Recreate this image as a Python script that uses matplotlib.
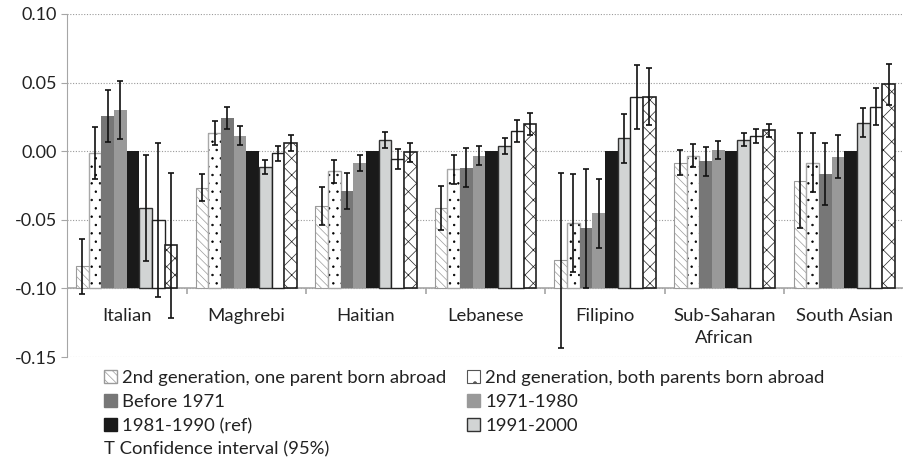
import numpy as np
import matplotlib
matplotlib.use("Agg")
import matplotlib.pyplot as plt
from matplotlib.patches import Patch

plt.rcParams['font.family'] = ['Lato', 'DejaVu Sans']
plt.rcParams['hatch.linewidth'] = 0.5

groups = ['Italian', 'Maghrebi', 'Haitian', 'Lebanese', 'Filipino',
          'Sub-Saharan\nAfrican', 'South Asian']
series = ['2nd generation, one parent born abroad',
          '2nd generation, both parents born abroad',
          'Before 1971', '1971-1980', '1981-1990 (ref)', '1991-2000',
          '2001-2005', '2006-2010']

# values per group (8 series each)
italian = [-0.084, -0.001, 0.0255, 0.030, 0.0, -0.0415, -0.050, -0.0687]
maghrebi = [-0.0265, 0.0131, 0.024, 0.0114, 0.0, -0.0117, -0.0015, 0.0058]
haitian = [-0.040, -0.0146, -0.029, -0.0087, 0.0, 0.008, -0.0058, -0.0007]
lebanese = [-0.0415, -0.0131, -0.0119, -0.0032, 0.0, 0.0039, 0.0146, 0.020]
filipino = [-0.0796, -0.0524, -0.0563, -0.0451, 0.0, 0.0095, 0.0396, 0.0398]
subsahara = [-0.0083, -0.0032, -0.0073, 0.001, 0.0, 0.0083, 0.0112, 0.0153]
southasian = [-0.0216, -0.0083, -0.0167, -0.0039, 0.0, 0.0209, 0.0325, 0.0488]

# half widths of 95% confidence intervals
italian_ci = [0.020, 0.019, 0.019, 0.021, 0.0, 0.0385, 0.056, 0.053]
maghrebi_ci = [0.0099, 0.0086, 0.008, 0.0072, 0.0, 0.0052, 0.0056, 0.0058]
haitian_ci = [0.0136, 0.0084, 0.0128, 0.006, 0.0, 0.006, 0.0075, 0.007]
lebanese_ci = [0.0158, 0.0106, 0.014, 0.0072, 0.0, 0.0058, 0.0082, 0.0082]
filipino_ci = [0.0635, 0.0355, 0.0432, 0.0252, 0.0, 0.0178, 0.0234, 0.0208]
subsahara_ci = [0.0091, 0.0085, 0.0105, 0.0064, 0.0, 0.0048, 0.0051, 0.0047]
southasian_ci = [0.0346, 0.0216, 0.0228, 0.0157, 0.0, 0.0103, 0.0134, 0.0149]

vals = np.array([italian, maghrebi, haitian, lebanese, filipino, subsahara, southasian])
cis = np.array([italian_ci, maghrebi_ci, haitian_ci, lebanese_ci, filipino_ci,
                subsahara_ci, southasian_ci])

base = -0.10
styles = [
    dict(facecolor='white', edgecolor='#9a9a9a', hatch='\\\\\\\\', lw=0.8),
    dict(facecolor='white', edgecolor='#a8a8a8', hatch='..', lw=1.0),
    dict(facecolor='#777777', edgecolor='none', hatch=None, lw=0),
    dict(facecolor='#999999', edgecolor='none', hatch=None, lw=0),
    dict(facecolor='#1a1a1a', edgecolor='none', hatch=None, lw=0),
    dict(facecolor='#d2d4d4', edgecolor='#333333', hatch=None, lw=1.0),
    dict(facecolor='white', edgecolor='#222222', hatch=None, lw=1.0),
    dict(facecolor='white', edgecolor='#222222', hatch='xx', lw=1.2),
]
fs = 13.3
tc = '#222222'

fig = plt.figure(figsize=(9.04, 4.73), dpi=100)
ax = fig.add_axes([67/904, 1-357/473, 1-67/904, (357-14)/473])

x = np.arange(len(groups))
w = 0.106
for i in range(len(series)):
    xs = x + (i - 3.5) * w
    st = styles[i]
    if i == 1:
        # black dots with a light grey outline
        ax.bar(xs, vals[:, i] - base, w, bottom=base, color='white',
               edgecolor='black', hatch=st['hatch'], linewidth=0, zorder=2)
        ax.bar(xs, vals[:, i] - base, w, bottom=base, fill=False,
               edgecolor=st['edgecolor'], linewidth=st['lw'], zorder=2)
    else:
        ax.bar(xs, vals[:, i] - base, w, bottom=base, color=st['facecolor'],
               edgecolor=st['edgecolor'], hatch=st['hatch'],
               linewidth=st['lw'], zorder=2)
    m = cis[:, i] > 0
    if m.any():
        ax.errorbar(xs[m], vals[m, i], yerr=cis[m, i], fmt='none',
                    ecolor='#111111', elinewidth=1.2, capsize=2.3,
                    capthick=1.2, zorder=3)

ax.set_xlim(-0.5, len(groups) - 0.5)
ax.set_ylim(-0.15, 0.10)
ax.set_yticks([0.10, 0.05, 0.0, -0.05, -0.10, -0.15])
ax.set_yticklabels(['0.10', '0.05', '0.00', '-0.05', '-0.10', '-0.15'])
ax.yaxis.grid(True, linestyle=(0, (1, 1.5)), color='#9a9a9a', linewidth=0.8)
ax.set_axisbelow(True)
ax.set_xticks([])
for s in ['top', 'right', 'bottom']:
    ax.spines[s].set_visible(False)
ax.spines['left'].set_color('#a6a6a6')
ax.tick_params(axis='y', length=4, color='#a6a6a6', labelsize=13,
               labelcolor=tc, pad=3)

# category axis sits at -0.10
ax.axhline(base, color='#a6a6a6', linewidth=1.2, zorder=1)
ax.vlines(np.arange(len(groups) + 1) - 0.5, base - 0.004, base,
          color='#a6a6a6', linewidth=1.2)
for xi, g in zip(x, groups):
    ax.text(xi, -0.1145, g, ha='center', va='top', fontsize=fs,
            color=tc, linespacing=1.45)

handles = [Patch(facecolor=styles[i]['facecolor'],
                 edgecolor=styles[i]['edgecolor'] if styles[i]['edgecolor'] != 'none' else styles[i]['facecolor'],
                 hatch=styles[i]['hatch'], linewidth=1.0)
           for i in range(6)]
handles[1] = Patch(facecolor='white', edgecolor='#555555', hatch='.', linewidth=0.8)
order = [0, 2, 4, 1, 3, 5]  # fill rows first like the original
fig.legend([handles[k] for k in order], [series[k] for k in order], ncol=2,
           loc='upper left', bbox_to_anchor=(87/904, 1-353/473), frameon=False,
           fontsize=fs, handlelength=0.7, handleheight=0.7,
           handletextpad=0.3, columnspacing=1.1, labelspacing=0.45,
           labelcolor=tc)
fig.text(104/904, 1-449/473, 'T Confidence interval (95%)', fontsize=fs,
         color=tc, va='center', ha='left')

fig.savefig('out.png', dpi=100)
